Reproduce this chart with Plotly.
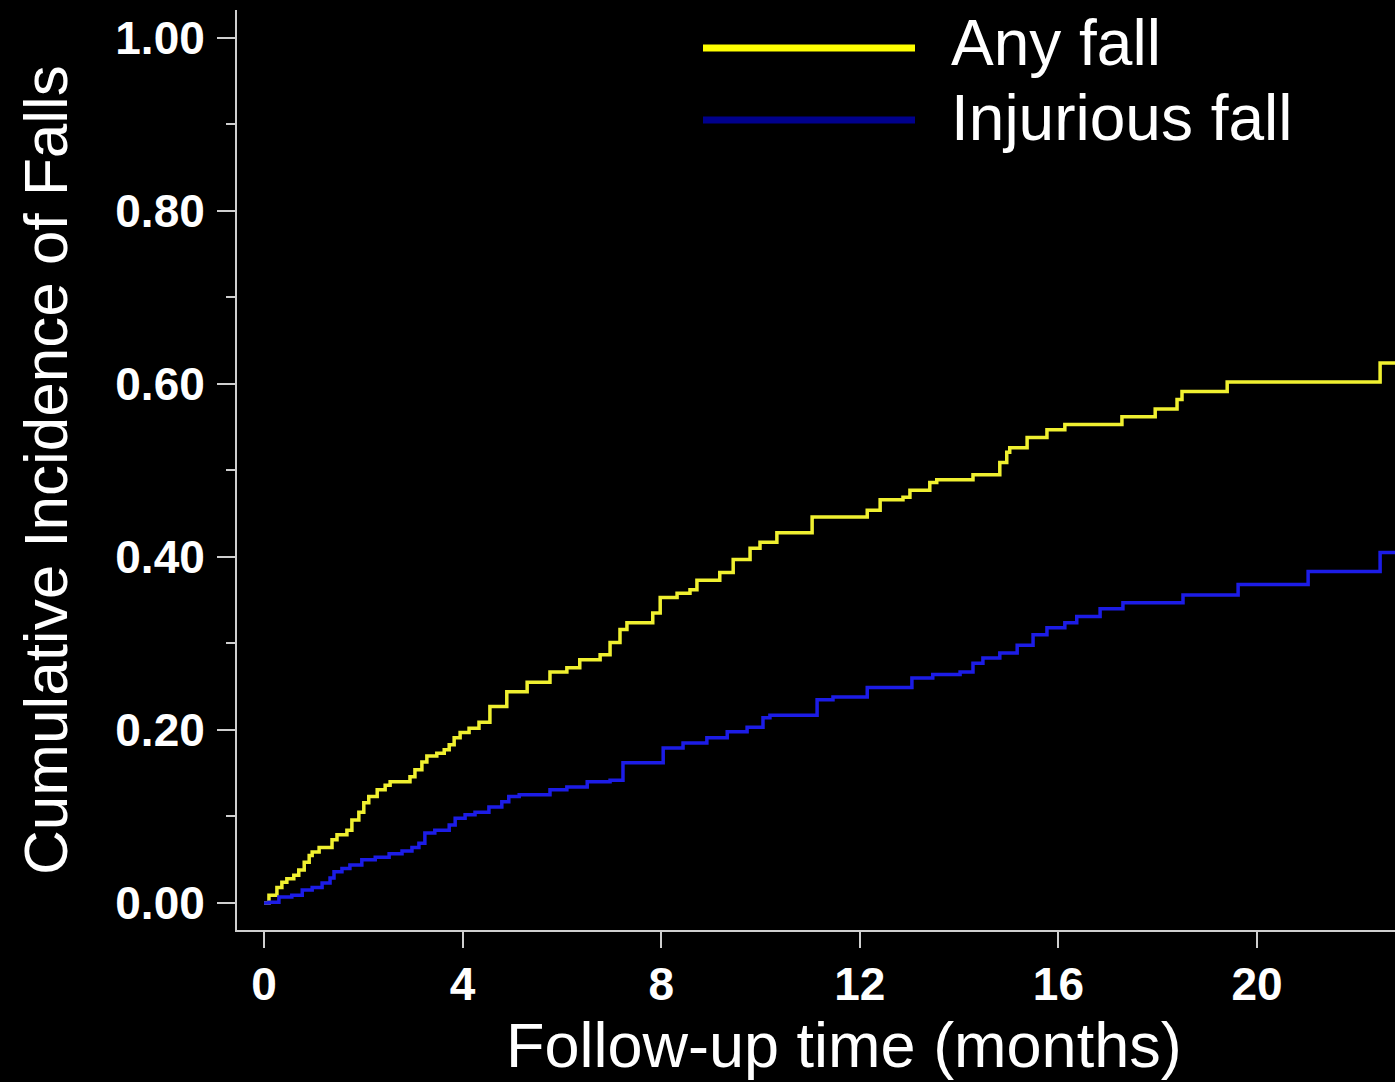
import plotly.graph_objects as go

# ---- data ----
any_fall_t = [0.0, 0.10, 0.26, 0.36, 0.46, 0.60, 0.70, 0.81, 0.91, 0.97, 1.11, 1.37, 1.47, 1.67, 1.77,
              1.91, 2.01, 2.11, 2.28, 2.44, 2.54, 2.94, 3.04, 3.18, 3.28, 3.48, 3.63, 3.73, 3.83, 3.95,
              4.13, 4.33, 4.55, 4.89, 5.30, 5.76, 6.10, 6.36, 6.77, 6.97, 7.17, 7.31, 7.83, 7.98, 8.32,
              8.58, 8.72, 9.18, 9.45, 9.79, 9.99, 10.33, 11.04, 12.15, 12.41, 12.87, 13.01, 13.41, 13.55,
              14.28, 14.82, 14.96, 15.02, 15.37, 15.77, 16.13, 17.28, 17.95, 18.39, 18.49, 19.40,
              22.48, 22.78]
any_fall_v = [0.0, 0.009, 0.018, 0.024, 0.028, 0.032, 0.038, 0.047, 0.055, 0.059, 0.064, 0.073, 0.079,
              0.084, 0.096, 0.105, 0.116, 0.123, 0.131, 0.136, 0.140, 0.146, 0.154, 0.163, 0.170, 0.173,
              0.177, 0.183, 0.191, 0.197, 0.202, 0.209, 0.227, 0.244, 0.255, 0.267, 0.272, 0.281, 0.287,
              0.301, 0.316, 0.324, 0.335, 0.353, 0.358, 0.362, 0.373, 0.382, 0.397, 0.410, 0.417, 0.428,
              0.446, 0.454, 0.466, 0.469, 0.477, 0.486, 0.489, 0.495, 0.509, 0.521, 0.526, 0.538, 0.547,
              0.553, 0.562, 0.571, 0.582, 0.591, 0.602, 0.624, 0.624]

injurious_t = [0.0, 0.10, 0.30, 0.56, 0.77, 0.97, 1.17, 1.33, 1.41, 1.57, 1.73, 1.97, 2.24, 2.52, 2.78,
               2.98, 3.12, 3.24, 3.44, 3.73, 3.85, 4.05, 4.25, 4.53, 4.79, 4.93, 5.14, 5.76, 6.10, 6.51,
               6.97, 7.23, 8.04, 8.44, 8.92, 9.33, 9.73, 10.05, 10.19, 11.14, 11.46, 12.15, 13.05, 13.47,
               14.02, 14.28, 14.48, 14.82, 15.17, 15.49, 15.77, 16.13, 16.37, 16.84, 17.30, 18.51, 19.62,
               21.03, 22.48, 22.78]
injurious_v = [0.0, 0.001, 0.007, 0.009, 0.015, 0.018, 0.023, 0.029, 0.036, 0.040, 0.044, 0.050, 0.053,
               0.057, 0.060, 0.064, 0.069, 0.081, 0.084, 0.090, 0.098, 0.102, 0.105, 0.111, 0.117, 0.123,
               0.125, 0.131, 0.134, 0.140, 0.142, 0.162, 0.179, 0.185, 0.191, 0.198, 0.203, 0.214, 0.217,
               0.235, 0.238, 0.249, 0.260, 0.264, 0.267, 0.277, 0.283, 0.289, 0.298, 0.310, 0.318, 0.324,
               0.331, 0.340, 0.347, 0.356, 0.368, 0.383, 0.405, 0.405]

series_names = ["Any fall", "Injurious fall"]
x_ticks = [0, 4, 8, 12, 16, 20]

# ---- styling ----
curve_colors = ["#F0F030", "#1C1CE6"]
legend_colors = ["#FFFF00", "#00008C"]
axis_color = "#cfcfcf"
font_family = "Liberation Sans, Arial, Helvetica, sans-serif"

fig = go.Figure()
fig.add_trace(go.Scatter(x=any_fall_t, y=any_fall_v, mode="lines", line_shape="hv",
                         line=dict(color=curve_colors[0], width=3.5), name=series_names[0],
                         showlegend=False))
fig.add_trace(go.Scatter(x=injurious_t, y=injurious_v, mode="lines", line_shape="hv",
                         line=dict(color=curve_colors[1], width=3.5), name=series_names[1],
                         showlegend=False))

fig.update_layout(
    width=1395, height=1082,
    margin=dict(l=237, r=0, t=10, b=152),
    paper_bgcolor="black", plot_bgcolor="black",
    font=dict(family=font_family, color="white"),
    showlegend=False,
)

fig.update_xaxes(
    range=[-0.544, 22.78], tickvals=x_ticks, ticktext=[str(v) for v in x_ticks],
    showline=True, linecolor=axis_color, linewidth=2,
    ticks="outside", ticklen=16, tickwidth=2, tickcolor=axis_color,
    showgrid=False, zeroline=False,
    ticklabelstandoff=-3,
    tickfont=dict(size=46, color="white", family=font_family, weight="bold"),
)
fig.update_yaxes(
    range=[-0.0312, 1.032], tick0=0, dtick=0.2, tickformat=".2f",
    showline=True, linecolor=axis_color, linewidth=2,
    ticks="outside", ticklen=18, tickwidth=2, tickcolor=axis_color,
    minor=dict(dtick=0.1, ticklen=9, tickwidth=2, tickcolor=axis_color, ticks="outside", showgrid=False),
    showgrid=False, zeroline=False,
    ticklabelstandoff=3,
    tickfont=dict(size=46, color="white", family=font_family, weight="bold"),
)

# axis titles
fig.add_annotation(text="Cumulative Incidence of Falls", xref="paper", yref="paper",
                   x=(45 - 237) / 1158, y=0.5, xanchor="center", yanchor="middle",
                   textangle=-90, showarrow=False,
                   font=dict(size=62, color="white", family=font_family))
fig.add_annotation(text="Follow-up time (months)", xref="paper", yref="paper",
                   x=(844 - 237) / 1158, y=(930 - 1045) / 920, xanchor="center", yanchor="middle",
                   showarrow=False,
                   font=dict(size=63, color="white", family=font_family))

# legend (drawn manually)
legend_rows = [(48, 43), (120, 118)]
for i, name in enumerate(series_names):
    ly, ty = legend_rows[i]
    fig.add_shape(type="line", xref="paper", yref="paper",
                  x0=(703 - 237) / 1158, x1=(915 - 237) / 1158,
                  y0=(930 - ly) / 920, y1=(930 - ly) / 920,
                  line=dict(color=legend_colors[i], width=7))
    fig.add_annotation(text=name, xref="paper", yref="paper",
                       x=(949 - 237) / 1158, y=(930 - ty) / 920, xanchor="left", yanchor="middle",
                       showarrow=False,
                       font=dict(size=64, color="white", family=font_family))

fig.write_html("out.html")
